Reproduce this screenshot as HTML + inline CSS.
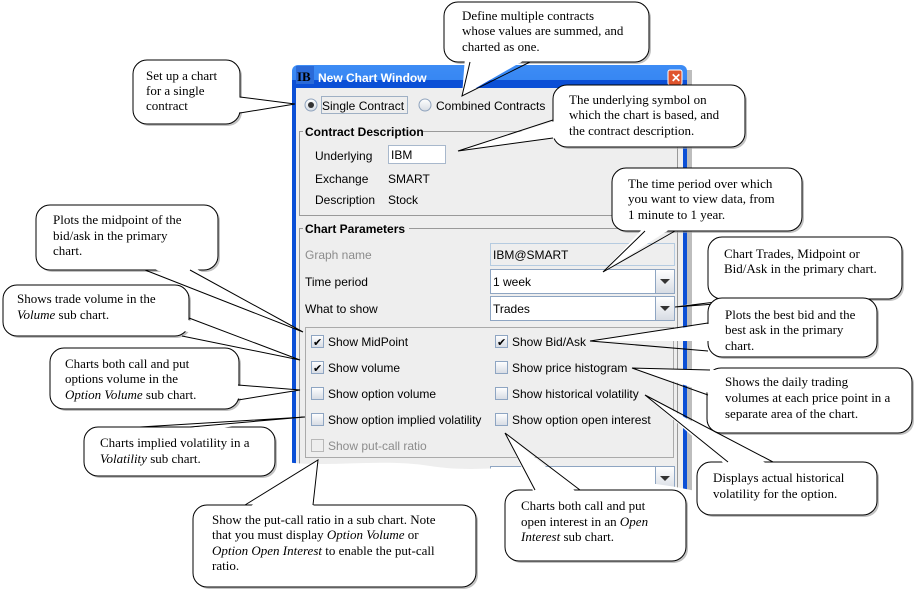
<!DOCTYPE html>
<html><head><meta charset="utf-8"><style>
html,body{margin:0;padding:0;background:#fff;}
svg{display:block}
.ui{font-family:"Liberation Sans",sans-serif;font-size:12px;fill:#000}
.g{fill:#8c8c8c}
.c{font-family:"Liberation Serif",serif;font-size:13px;fill:#000}
.b{fill:#fff;stroke:#000;stroke-width:1}
.w{fill:#fff;stroke:none}
.l{stroke:#000;stroke-width:1;fill:none}
.sh{fill:#9a9a9a;opacity:.6}
</style></head><body>
<svg width="914" height="589" viewBox="0 0 914 589" xmlns="http://www.w3.org/2000/svg">
<defs>
<linearGradient id="tb" x1="0" y1="0" x2="0" y2="1"><stop offset="0" stop-color="#3d8cf5"/><stop offset=".3" stop-color="#0a5ee0"/><stop offset="1" stop-color="#0347c9"/></linearGradient>
<linearGradient id="cb" x1="0" y1="0" x2="0" y2="1"><stop offset="0" stop-color="#fff"/><stop offset="1" stop-color="#d6dbe3"/></linearGradient>
</defs>
<rect x="687" y="70" width="5" height="425" fill="#bdbdbd"/>
<rect x="292" y="65" width="395" height="430" rx="6" fill="url(#tb)"/>
<rect x="292" y="80" width="395" height="415" fill="#0b4fd6"/>
<rect x="296" y="88" width="387" height="410" fill="#eeeeee"/>
<rect x="296" y="66" width="18" height="18" fill="#2a6ad8"/>
<text x="297" y="81" style="font-family:'Liberation Serif',serif;font-weight:bold;font-size:13px;fill:#000">IB</text>
<text x="318" y="82" style="font-family:'Liberation Sans',sans-serif;font-weight:bold;font-size:12px;fill:#fff">New Chart Window</text>
<rect x="668" y="70" width="14" height="15" rx="2" fill="#e0542e" stroke="#fff"/>
<text x="671" y="82" style="font-family:'Liberation Sans',sans-serif;font-weight:bold;font-size:12px;fill:#fff">✕</text>
<circle cx="311" cy="105" r="6" fill="url(#cb)" stroke="#8fa3bd"/><circle cx="311" cy="105" r="3" fill="#333"/>
<rect x="321.5" y="96.5" width="86" height="17" fill="none" stroke="#9fb0c4"/>
<text x="322" y="110" class="ui">Single Contract</text>
<circle cx="425" cy="105" r="6" fill="url(#cb)" stroke="#8fa3bd"/>
<text x="436" y="110" class="ui">Combined Contracts</text>
<rect x="299.5" y="131.5" width="378" height="84" fill="none" stroke="#999"/>
<rect x="303" y="124" width="120" height="14" fill="#eeeeee"/>
<text x="305" y="136" class="ui" style="font-weight:bold">Contract Description</text>
<text x="315" y="160" class="ui">Underlying</text>
<rect x="388.5" y="145.5" width="57" height="18" fill="#fff" stroke="#a8b8cc"/>
<text x="391" y="159" class="ui">IBM</text>
<text x="315" y="183" class="ui">Exchange</text><text x="388" y="183" class="ui">SMART</text>
<text x="315" y="204" class="ui">Description</text><text x="388" y="204" class="ui">Stock</text>
<rect x="299.5" y="228.5" width="378" height="270" fill="none" stroke="#999"/>
<rect x="303" y="221" width="106" height="14" fill="#eeeeee"/>
<text x="305" y="233" class="ui" style="font-weight:bold">Chart Parameters</text>
<text x="305" y="259" class="ui g">Graph name</text>
<rect x="490.5" y="243.5" width="184" height="22" fill="#eeeeee" stroke="#b5cbe0"/>
<text x="493" y="259" class="ui">IBM@SMART</text>
<text x="305" y="286" class="ui">Time period</text>
<rect x="490.5" y="269.5" width="184" height="24" fill="#fff" stroke="#8ea5c2"/>
<rect x="655.5" y="269.5" width="19" height="24" fill="url(#cb)" stroke="#8ea5c2"/>
<path d="M660 279h10l-5 5z" fill="#333"/>
<text x="493" y="286" class="ui">1 week</text>
<text x="305" y="313" class="ui">What to show</text>
<rect x="490.5" y="296.5" width="184" height="24" fill="#fff" stroke="#8ea5c2"/>
<rect x="655.5" y="296.5" width="19" height="24" fill="url(#cb)" stroke="#8ea5c2"/>
<path d="M660 306h10l-5 5z" fill="#333"/>
<text x="493" y="313" class="ui">Trades</text>
<rect x="305.5" y="327.5" width="368" height="130" fill="none" stroke="#aaa"/>
<g>
<rect x="311.5" y="335.5" width="12" height="12" fill="url(#cb)" stroke="#8ea5c2"/><text x="313" y="346" class="ui" style="font-size:11px">✔</text>
<text x="328" y="346" class="ui">Show MidPoint</text>
<rect x="311.5" y="361.5" width="12" height="12" fill="url(#cb)" stroke="#8ea5c2"/><text x="313" y="372" class="ui" style="font-size:11px">✔</text>
<text x="328" y="372" class="ui">Show volume</text>
<rect x="311.5" y="387.5" width="12" height="12" fill="url(#cb)" stroke="#8ea5c2"/>
<text x="328" y="398" class="ui">Show option volume</text>
<rect x="311.5" y="413.5" width="12" height="12" fill="url(#cb)" stroke="#8ea5c2"/>
<text x="328" y="424" class="ui">Show option implied volatility</text>
<rect x="311.5" y="439.5" width="12" height="12" fill="#eee" stroke="#b8b8b8"/>
<text x="328" y="450" class="ui g">Show put-call ratio</text>
<rect x="495.5" y="335.5" width="12" height="12" fill="url(#cb)" stroke="#8ea5c2"/><text x="497" y="346" class="ui" style="font-size:11px">✔</text>
<text x="512" y="346" class="ui">Show Bid/Ask</text>
<rect x="495.5" y="361.5" width="12" height="12" fill="url(#cb)" stroke="#8ea5c2"/>
<text x="512" y="372" class="ui">Show price histogram</text>
<rect x="495.5" y="387.5" width="12" height="12" fill="url(#cb)" stroke="#8ea5c2"/>
<text x="512" y="398" class="ui">Show historical volatility</text>
<rect x="495.5" y="413.5" width="12" height="12" fill="url(#cb)" stroke="#8ea5c2"/>
<text x="512" y="424" class="ui">Show option open interest</text>
</g>
<rect x="490.5" y="466.5" width="184" height="24" fill="#fff" stroke="#8ea5c2"/>
<rect x="655.5" y="466.5" width="19" height="24" fill="url(#cb)" stroke="#8ea5c2"/>
<path d="M660 476h10l-5 5z" fill="#333"/>
<path d="M285 462 C330 468,380 458,430 466 C480 474,520 462,560 472 C600 482,640 478,700 492 L700 600 L285 600 Z" fill="#fff"/>

<g>
<rect x="135" y="62" width="107" height="64" rx="14" class="sh"/>
<rect x="133" y="60" width="107" height="64" rx="14" class="b"/>
<polygon points="235,97 295,104 235,113" class="w"/><polyline points="240,97 295,104 240,113" class="l"/>
<text class="c"><tspan x="146" y="80">Set up a chart</tspan><tspan x="146" y="95">for a single</tspan><tspan x="146" y="110">contract</tspan></text>

<rect x="446" y="4" width="205" height="60" rx="14" class="sh"/>
<rect x="444" y="2" width="205" height="60" rx="14" class="b"/>
<polygon points="465,57 462,96 530,57" class="w"/><polyline points="470,62 462,96 530,62" class="l"/>
<text class="c"><tspan x="462" y="20">Define multiple contracts</tspan><tspan x="462" y="35">whose values are summed, and</tspan><tspan x="462" y="51">charted as one.</tspan></text>

<rect x="555" y="87" width="192" height="62" rx="14" class="sh"/>
<rect x="553" y="85" width="192" height="62" rx="14" class="b"/>
<polygon points="558,120 458,151 558,138" class="w"/><polyline points="553,120 458,151 553,138" class="l"/>
<text class="c"><tspan x="569" y="104">The underlying symbol on</tspan><tspan x="569" y="119">which the chart is based, and</tspan><tspan x="569" y="135">the contract description.</tspan></text>

<rect x="614" y="170" width="190" height="63" rx="14" class="sh"/>
<rect x="612" y="168" width="190" height="63" rx="14" class="b"/>
<polygon points="645,226 603,272 675,226" class="w"/><polyline points="645,231 603,272 675,231" class="l"/>
<text class="c"><tspan x="628" y="188">The time period over which</tspan><tspan x="628" y="203">you want to view data, from</tspan><tspan x="628" y="219">1 minute to 1 year.</tspan></text>

<rect x="38" y="207" width="182" height="65" rx="14" class="sh"/>
<rect x="36" y="205" width="182" height="65" rx="14" class="b"/>
<polygon points="145,265 303,332 190,265" class="w"/><polyline points="145,270 303,332 190,270" class="l"/>
<text class="c"><tspan x="53" y="224">Plots the midpoint of the</tspan><tspan x="53" y="240">bid/ask in the primary</tspan><tspan x="53" y="255">chart.</tspan></text>

<rect x="710" y="239" width="194" height="62" rx="14" class="sh"/>
<rect x="708" y="237" width="194" height="62" rx="14" class="b"/>
<polygon points="740,294 675,307 782,294" class="w"/><polyline points="740,299 675,307 782,299" class="l"/>
<text class="c"><tspan x="724" y="258">Chart Trades, Midpoint or</tspan><tspan x="724" y="273">Bid/Ask in the primary chart.</tspan></text>

<rect x="5" y="287" width="186" height="51" rx="14" class="sh"/>
<rect x="3" y="285" width="186" height="51" rx="14" class="b"/>
<polygon points="180,317 300,360 180,330" class="w"/><polyline points="189,318 300,360 182,336" class="l"/>
<text class="c"><tspan x="17" y="303">Shows trade volume in the</tspan><tspan x="17" y="319" font-style="italic">Volume</tspan><tspan> sub chart.</tspan></text>

<rect x="710" y="300" width="169" height="59" rx="14" class="sh"/>
<rect x="708" y="298" width="169" height="59" rx="14" class="b"/>
<polygon points="715,323 590,341 715,341" class="w"/><polyline points="708,323 590,341 708,351" class="l"/>
<text class="c"><tspan x="725" y="319">Plots the best bid and the</tspan><tspan x="725" y="334">best ask in the primary</tspan><tspan x="725" y="350">chart.</tspan></text>

<rect x="52" y="350" width="189" height="61" rx="14" class="sh"/>
<rect x="50" y="348" width="189" height="61" rx="14" class="b"/>
<polygon points="228,385 300,390 228,400" class="w"/><polyline points="238,385 300,390 238,400" class="l"/>
<text class="c"><tspan x="65" y="368">Charts both call and put</tspan><tspan x="65" y="383">options volume in the</tspan><tspan x="65" y="399" font-style="italic">Option Volume</tspan><tspan> sub chart.</tspan></text>

<rect x="709" y="370" width="205" height="65" rx="14" class="sh"/>
<rect x="707" y="368" width="205" height="65" rx="14" class="b"/>
<polygon points="715,370 632,368 715,395" class="w"/><polyline points="710,370 632,368 708,395" class="l"/>
<text class="c"><tspan x="725" y="386">Shows the daily trading</tspan><tspan x="725" y="402">volumes at each price point in a</tspan><tspan x="725" y="418">separate area of the chart.</tspan></text>

<rect x="86" y="429" width="191" height="49" rx="14" class="sh"/>
<rect x="84" y="427" width="191" height="49" rx="14" class="b"/>
<polygon points="140,432 305,417 190,432" class="w"/><polyline points="140,427 305,417 190,427" class="l"/>
<text class="c"><tspan x="100" y="447">Charts implied volatility in a</tspan><tspan x="100" y="463" font-style="italic">Volatility</tspan><tspan> sub chart.</tspan></text>

<rect x="699" y="464" width="180" height="53" rx="14" class="sh"/>
<rect x="697" y="462" width="180" height="53" rx="14" class="b"/>
<polygon points="728,467 645,395 773,467" class="w"/><polyline points="728,462 645,395 773,462" class="l"/>
<text class="c"><tspan x="713" y="482">Displays actual historical</tspan><tspan x="713" y="498">volatility for the option.</tspan></text>

<rect x="195" y="507" width="283" height="82" rx="14" class="sh"/>
<rect x="193" y="505" width="283" height="82" rx="14" class="b"/>
<polygon points="245,510 318,460 313,510" class="w"/><polyline points="245,505 318,460 313,505" class="l"/>
<text class="c"><tspan x="212" y="524">Show the put-call ratio in a sub chart. Note</tspan><tspan x="212" y="539">that you must display </tspan><tspan font-style="italic">Option Volume</tspan><tspan> or</tspan><tspan x="212" y="555" font-style="italic">Option Open Interest</tspan><tspan> to enable the put-call</tspan><tspan x="212" y="570">ratio.</tspan></text>

<rect x="507" y="492" width="181" height="71" rx="14" class="sh"/>
<rect x="505" y="490" width="181" height="71" rx="14" class="b"/>
<polygon points="535,495 505,433 580,495" class="w"/><polyline points="535,490 505,433 580,490" class="l"/>
<text class="c"><tspan x="521" y="510">Charts both call and put</tspan><tspan x="521" y="526">open interest in an </tspan><tspan font-style="italic">Open</tspan><tspan x="521" y="541" font-style="italic">Interest</tspan><tspan> sub chart.</tspan></text>
</g>
</svg>
</body></html>
